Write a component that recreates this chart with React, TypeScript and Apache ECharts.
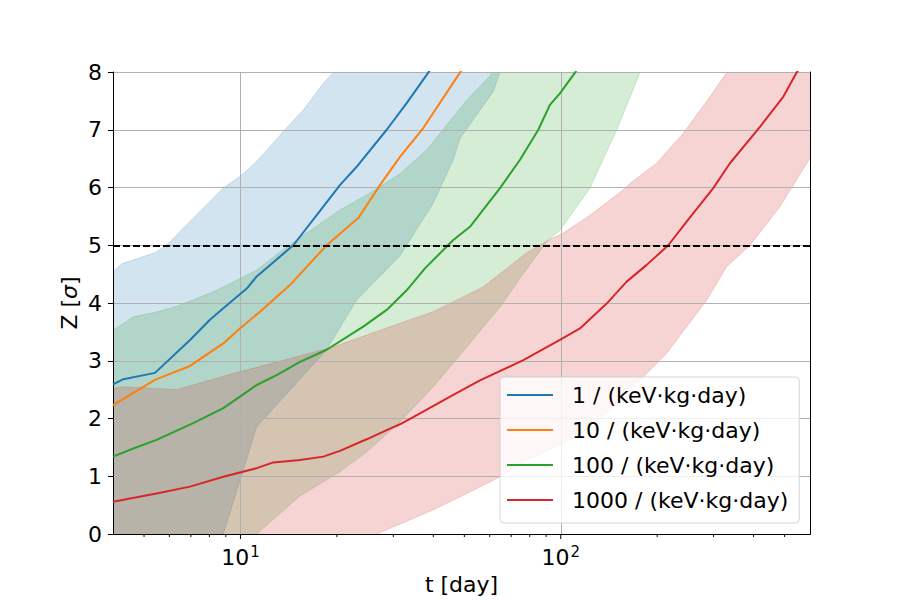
import React, { useEffect, useRef } from 'react';
import * as echarts from 'echarts';

const X_MIN = 4;
const X_MAX = 600;
const Y_MIN = 0;
const Y_MAX = 8;
const THRESHOLD = 5;

const LEGEND_NAMES = ['1 / (keV·kg·day)', '10 / (keV·kg·day)', '100 / (keV·kg·day)', '1000 / (keV·kg·day)'];
const COLORS = ['#1f77b4', '#ff7f0e', '#2ca02c', '#d62728'];

const MAJOR_TICKS = [10, 100];
const MINOR_TICKS = [5, 6, 7, 8, 9, 20, 30, 40, 50, 60, 70, 80, 90, 200, 300, 400, 500];

const LINE_1 = [[4.0, 2.59], [4.31, 2.68], [5.41, 2.79], [6.96, 3.36], [8.03, 3.71], [8.84, 3.91], [10.46, 4.25], [11.24, 4.46], [14.62, 5.0], [18.14, 5.67], [20.44, 6.04], [23.32, 6.39], [28.61, 7.0], [33.03, 7.46], [38.58, 7.99], [41.97, 8.28]];
const LINE_10 = [[4.0, 2.23], [4.52, 2.41], [5.41, 2.67], [6.96, 2.91], [8.84, 3.3], [9.96, 3.56], [11.51, 3.85], [14.27, 4.31], [18.58, 5.0], [23.32, 5.47], [27.26, 6.04], [31.48, 6.53], [37.22, 7.03], [48.45, 7.99], [52.06, 8.25]];
const LINE_100 = [[4.0, 1.34], [4.63, 1.48], [5.47, 1.63], [7.12, 1.92], [8.84, 2.18], [11.24, 2.58], [12.97, 2.75], [15.34, 2.98], [18.58, 3.19], [24.17, 3.59], [28.61, 3.88], [33.03, 4.22], [37.67, 4.6], [46.17, 5.09], [52.06, 5.32], [64.6, 5.99], [74.6, 6.48], [85.1, 7.0], [92.5, 7.43], [99.4, 7.63], [110.8, 7.99], [119, 8.25]];
const LINE_1000 = [[4.0, 0.56], [5.47, 0.7], [6.96, 0.82], [8.84, 0.99], [11.24, 1.14], [12.66, 1.24], [15.34, 1.28], [18.14, 1.34], [20.44, 1.44], [24.77, 1.64], [28.61, 1.8], [31.48, 1.9], [36.35, 2.09], [46.17, 2.41], [55.94, 2.66], [76.4, 3.01], [99.4, 3.36], [114.8, 3.56], [139.1, 3.99], [160.6, 4.37], [185.5, 4.66], [216.6, 5.0], [247.2, 5.41], [299.3, 5.99], [337.5, 6.42], [418.7, 7.05], [495, 7.57], [545, 7.99], [578.6, 8.2]];

const BAND_1_UPPER = [[4.0, 4.54], [4.26, 4.68], [5.41, 4.87], [5.88, 5.0], [6.96, 5.41], [8.84, 5.99], [9.96, 6.19], [11.24, 6.45], [13.77, 7.0], [15.71, 7.34], [18.14, 7.8], [19.49, 7.99], [20.44, 8.2]];
const BAND_1_LOWER = [[4.0, -1], [8.84, 0], [11.24, 1.86], [14.27, 2.49], [18.58, 3.19], [23.05, 4.05], [31.48, 4.82], [40.0, 5.73], [46.17, 6.48], [48.45, 6.85], [61.5, 7.66], [64.6, 7.99], [66.96, 8.2]];
const BAND_100_UPPER = [[4.0, 3.53], [4.63, 3.76], [5.34, 3.83], [6.32, 3.94], [8.43, 4.22], [11.24, 4.57], [13.94, 4.97], [20.44, 5.61], [24.77, 5.87], [31.48, 6.24], [38.14, 6.65], [50.84, 7.51], [60.1, 7.93], [64.6, 8.2]];
const BAND_100_LOWER = [[4.0, -1], [11.24, 0], [15.34, 0.66], [20.44, 1.08], [24.77, 1.42], [31.48, 1.94], [40.0, 2.55], [50.84, 3.24], [64.6, 3.93], [76.2, 4.5], [90.4, 5.06], [99.4, 5.26], [123.4, 5.99], [149.5, 7.0], [176.7, 7.99], [183.2, 8.2]];
const BAND_1000_UPPER = [[4.0, 2.52], [4.31, 2.55], [6.32, 2.5], [9.5, 2.78], [12.07, 2.93], [19.49, 3.24], [31.48, 3.65], [40.0, 3.85], [54.6, 4.22], [57.3, 4.28], [78.3, 4.87], [90.4, 5.07], [101.8, 5.21], [123.4, 5.52], [156.7, 5.96], [164.5, 6.07], [199.3, 6.42], [241.3, 6.94], [292.3, 7.57], [329.6, 7.99], [350, 8.2], [700, 10]];
const BAND_1000_LOWER = [[4.0, -1], [26.63, 0], [40.0, 0.42], [50.84, 0.7], [64.6, 0.99], [78.3, 1.28], [112.1, 1.68], [145.8, 2.2], [181, 2.72], [214.1, 3.13], [285.5, 4.05], [329.6, 4.63], [389.7, 5.0], [483.5, 5.67], [600, 6.51], [700, 7.11]];

const FONT = 'DejaVu Sans';

function rgba(hex: string, a: number) {
  const n = parseInt(hex.slice(1), 16);
  return `rgba(${(n >> 16) & 255},${(n >> 8) & 255},${n & 255},${a})`;
}

function bandSeries(upper: number[][], lower: number[][], color: string) {
  return {
    type: 'custom',
    xAxisIndex: 0,
    yAxisIndex: 0,
    z: 0,
    silent: true,
    clip: true,
    data: [[X_MIN, Y_MIN]],
    renderItem: (params: any, api: any) => {
      const pts = upper.map((p) => api.coord(p)).concat(lower.slice().reverse().map((p) => api.coord(p)));
      const cs = params.coordSys;
      return {
        type: 'polygon',
        shape: { points: pts },
        style: { fill: rgba(color, 0.2), stroke: rgba(color, 0.2), lineWidth: 1 },
        clipPath: { type: 'rect', shape: { x: cs.x, y: cs.y, width: cs.width, height: cs.height } },
      };
    },
  };
}

function tickSeries(values: number[], len: number) {
  return {
    type: 'custom',
    xAxisIndex: 0,
    yAxisIndex: 0,
    z: 5,
    silent: true,
    clip: false,
    data: values.map((v) => [v, Y_MIN]),
    renderItem: (params: any, api: any) => {
      const p = api.coord([api.value(0), api.value(1)]);
      return {
        type: 'line',
        shape: { x1: p[0], y1: p[1], x2: p[0], y2: p[1] + len },
        style: { stroke: '#000', lineWidth: 1 },
      };
    },
  };
}

function lineSeries(name: string, data: number[][], color: string, extra: any = {}) {
  return {
    type: 'line',
    name,
    data,
    xAxisIndex: 0,
    yAxisIndex: 0,
    z: 3,
    symbol: 'none',
    showSymbol: false,
    clip: true,
    silent: true,
    lineStyle: { color, width: 2 },
    itemStyle: { color },
    ...extra,
  };
}

export default function App() {
  const ref = useRef<HTMLDivElement>(null);
  useEffect(() => {
    const chart = echarts.init(ref.current!, null, { renderer: 'svg' });
    const option: any = {
      animation: false,
      backgroundColor: '#ffffff',
      grid: { left: 113, top: 72, width: 697, height: 462, containLabel: false, outerBoundsMode: 'none' },
      legend: {
        data: LEGEND_NAMES,
        orient: 'vertical',
        left: 500,
        top: 377,
        icon: 'rect',
        itemWidth: 46,
        itemHeight: 2,
        itemGap: 9,
        padding: [5, 11, 10, 7],
        backgroundColor: 'rgba(255,255,255,0.8)',
        borderColor: 'rgba(204,204,204,0.8)',
        borderWidth: 1,
        borderRadius: 4,
        selectedMode: false,
        textStyle: { fontFamily: FONT, fontSize: 22, color: '#000', lineHeight: 26, padding: [0, 0, 0, 14] },
      },
      xAxis: [
        {
          type: 'log',
          logBase: 10,
          min: X_MIN,
          max: X_MAX,
          position: 'bottom',
          z: 1,
          name: 't [day]',
          nameLocation: 'middle',
          nameGap: 37,
          nameMoveOverlap: false,
          nameTextStyle: { fontFamily: FONT, fontSize: 22, color: '#000', lineHeight: 26 },
          axisLine: { show: true, lineStyle: { color: '#000', width: 1 } },
          axisTick: { show: false },
          axisLabel: {
            show: true,
            margin: 10,
            showMinLabel: false,
            showMaxLabel: false,
            formatter: (v: number) => {
              const e = Math.log10(v);
              const r = Math.round(e);
              return Math.abs(e - r) < 1e-6 ? `{b|10}{s|${r}}` : '';
            },
            rich: {
              b: { fontFamily: FONT, fontSize: 22, color: '#000', lineHeight: 26 },
              s: { fontFamily: FONT, fontSize: 15, color: '#000', lineHeight: 16, verticalAlign: 'top', padding: [0, 0, 0, 1] },
            },
          },
          splitLine: { show: true, lineStyle: { color: '#b0b0b0', width: 1 } },
          minorTick: { show: false },
        },
        {
          type: 'log',
          logBase: 10,
          min: X_MIN,
          max: X_MAX,
          position: 'top',
          z: 1,
          axisLine: { show: true, lineStyle: { color: '#000', width: 1 } },
          axisTick: { show: false },
          axisLabel: { show: false },
          splitLine: { show: false },
        },
      ],
      yAxis: [
        {
          type: 'value',
          min: Y_MIN,
          max: Y_MAX,
          interval: 1,
          position: 'left',
          z: 1,
          name: 'Z [{i|σ}]',
          nameLocation: 'middle',
          nameGap: 31,
          nameMoveOverlap: false,
          nameTextStyle: {
            fontFamily: FONT, fontSize: 22, color: '#000', lineHeight: 26,
            rich: { i: { fontFamily: FONT, fontSize: 22, color: '#000', fontStyle: 'italic', lineHeight: 26 } },
          },
          axisLine: { show: true, lineStyle: { color: '#000', width: 1 } },
          axisTick: { show: true, length: 5, inside: false, lineStyle: { color: '#000', width: 1 } },
          axisLabel: { fontFamily: FONT, fontSize: 22, color: '#000', margin: 11 },
          splitLine: { show: true, lineStyle: { color: '#b0b0b0', width: 1 } },
        },
        {
          type: 'value',
          min: Y_MIN,
          max: Y_MAX,
          interval: 1,
          position: 'right',
          z: 1,
          axisLine: { show: true, lineStyle: { color: '#000', width: 1 } },
          axisTick: { show: false },
          axisLabel: { show: false },
          splitLine: { show: false },
        },
      ],
      series: [
        bandSeries(BAND_1_UPPER, BAND_1_LOWER, COLORS[0]),
        bandSeries(BAND_100_UPPER, BAND_100_LOWER, COLORS[2]),
        bandSeries(BAND_1000_UPPER, BAND_1000_LOWER, COLORS[3]),
        lineSeries(LEGEND_NAMES[0], LINE_1, COLORS[0], {
          markLine: {
            silent: true,
            symbol: 'none',
            label: { show: false },
            lineStyle: { color: '#000', type: [7, 3], width: 2 },
            data: [{ yAxis: THRESHOLD }],
          },
        }),
        lineSeries(LEGEND_NAMES[1], LINE_10, COLORS[1]),
        lineSeries(LEGEND_NAMES[2], LINE_100, COLORS[2]),
        lineSeries(LEGEND_NAMES[3], LINE_1000, COLORS[3]),
        tickSeries(MAJOR_TICKS, 5),
        tickSeries(MINOR_TICKS, 3),
      ],
    };
    chart.setOption(option);
    return () => chart.dispose();
  }, []);
  return <div ref={ref} style={{ position: 'fixed', left: 0, top: 0, width: 900, height: 600, background: '#fff' }} />;
}
